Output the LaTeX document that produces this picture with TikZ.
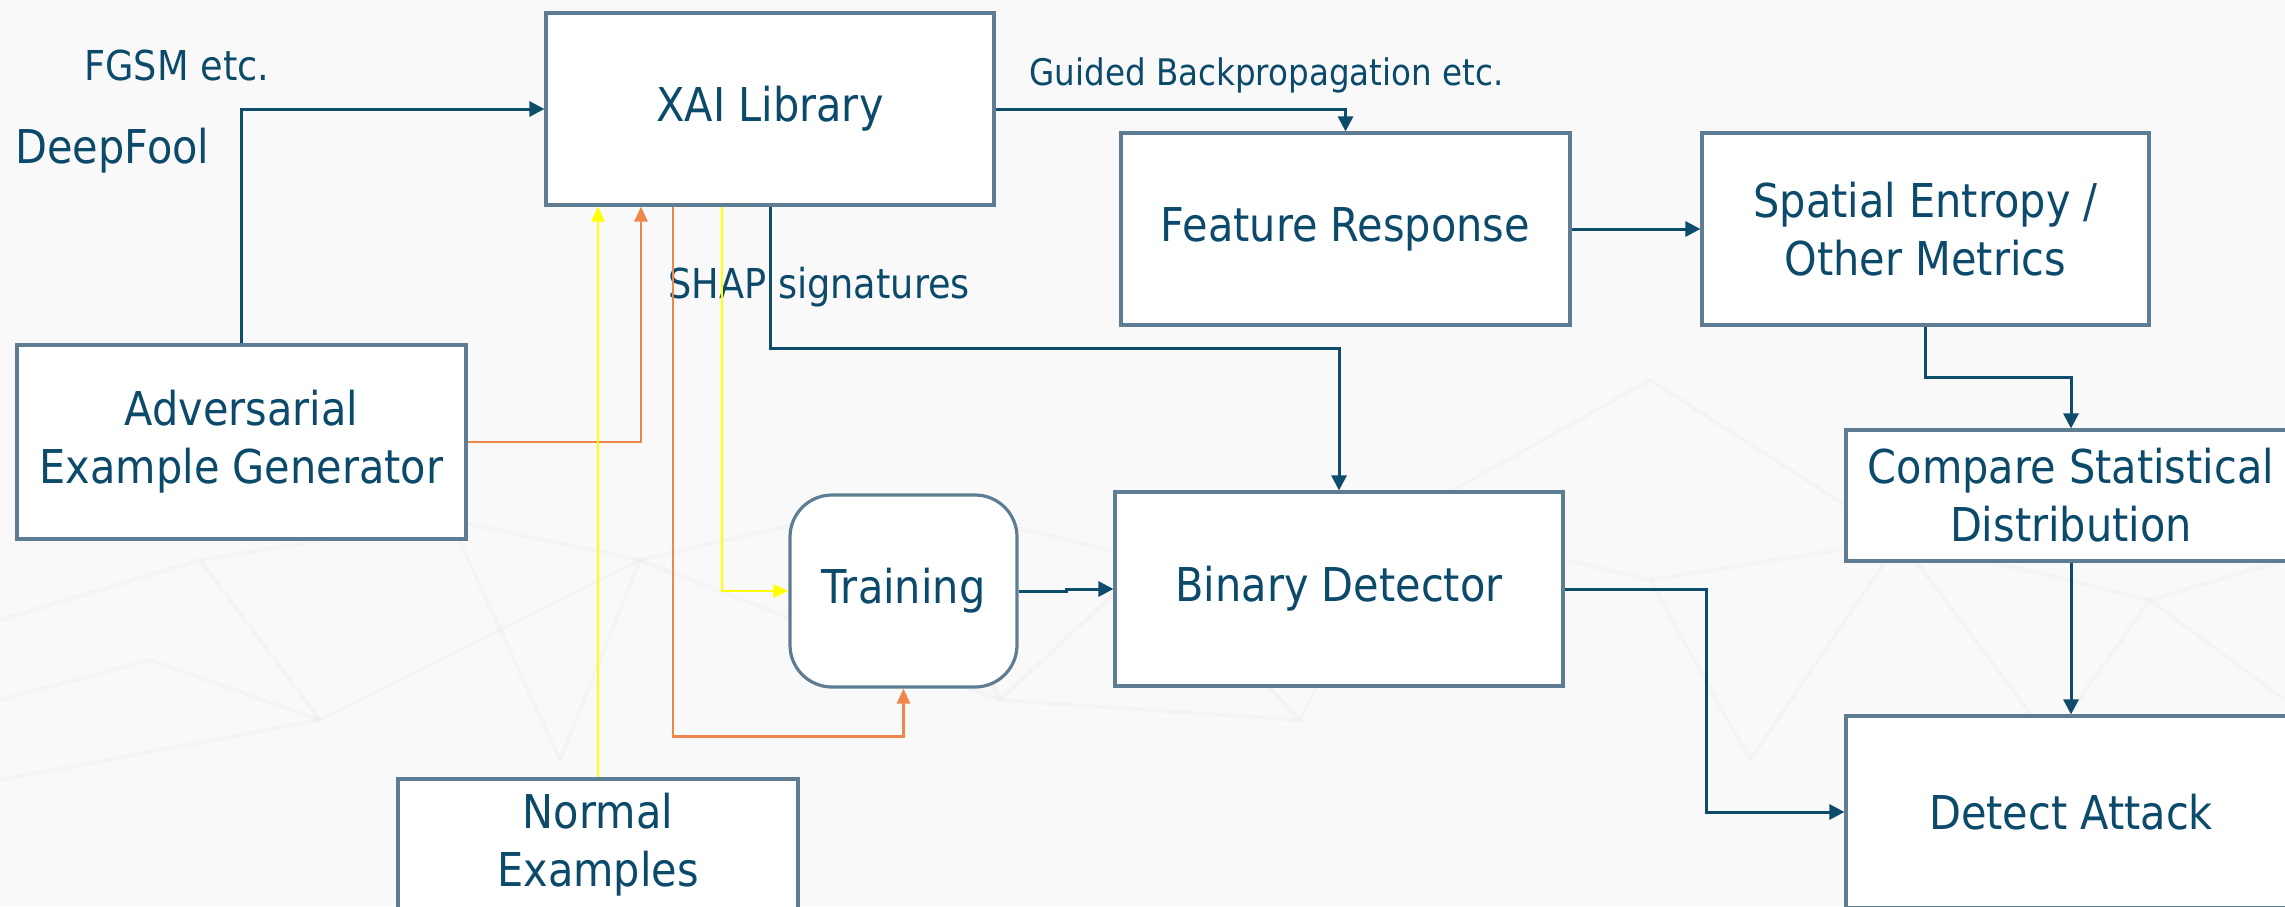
\documentclass[tikz,border=0pt]{standalone}
\usepackage{fontspec}
\setmainfont{DejaVu Sans}[FakeStretch=0.89]
\usetikzlibrary{arrows.meta,calc}

\definecolor{inkblue}{HTML}{0B4A6A}
\definecolor{wireblue}{HTML}{0D4C6B}
\definecolor{frame}{HTML}{5E7D92}
\definecolor{wireorange}{HTML}{F0874A}
\definecolor{wireyellow}{HTML}{FFFF00}
\definecolor{paper}{HTML}{F9F9F9}
\definecolor{meshgray}{HTML}{D8D8D8}

\tikzset{
  box/.style={draw=frame, line width=1.6pt, fill=white, inner sep=0pt,
              text=inkblue, align=center,
              font=\fontsize{23.3}{29}\selectfont},
  roundbox/.style={box, rounded corners=21pt},
  tag/.style={text=inkblue, inner sep=0pt, anchor=base west},
  wire/.style={draw=wireblue, line width=1.5pt,
               -{Triangle[length=7.5pt,width=7.5pt]}},
  wireO/.style={draw=wireorange, line width=1.4pt,
                -{Triangle[length=7.5pt,width=6.5pt]}},
  wireY/.style={draw=wireyellow, line width=1.3pt,
                -{Triangle[length=7.5pt,width=6.5pt]}},
  mesh/.style={draw=meshgray, line width=2pt, opacity=0.14},
}

\begin{document}
\begin{tikzpicture}[x=0.5pt, y=-0.5pt]
\clip (0,0) rectangle (2285,906);
\fill[paper] (0,0) rectangle (2285,906);

% faint network texture in the backdrop
\foreach \xa/\ya/\xb/\yb in {
  0/620/200/560, 200/560/450/520, 450/520/640/560, 640/560/900/500,
  900/500/1150/560, 1150/560/1400/520, 1400/520/1650/580, 1650/580/1900/540,
  1900/540/2150/600, 2150/600/2285/560,
  0/700/150/660, 150/660/320/720, 320/720/640/560, 640/560/560/760,
  200/560/320/720, 450/520/560/760, 900/500/1000/700, 1000/700/1150/560,
  1150/560/1300/720, 1300/720/1400/520, 1650/580/1750/760, 1750/760/1900/540,
  640/560/1000/700, 0/780/320/720, 1000/700/1300/720, 1900/540/2050/740,
  2050/740/2150/600, 1400/520/1650/380, 1650/380/1900/540, 2150/600/2285/700}
  \draw[mesh] (\xa,\ya) -- (\xb,\yb);

% boxes (sizes in pt: one unit of the grid is 0.5pt)
\node[box, minimum width=224pt,   minimum height=96pt]   (xai)  at (770,109)    {XAI Library};
\node[box, minimum width=224.5pt, minimum height=97pt]   (adv)  at (241.5,442)  {Adversarial\\Example Generator};
\node[box, minimum width=224.5pt, minimum height=96pt]   (feat) at (1345.5,229) {Feature Response};
\node[box, minimum width=223.5pt, minimum height=96pt]   (spat) at (1925.5,229) {Spatial Entropy /\\Other Metrics};
\node[box, minimum width=225pt,   minimum height=65.5pt] (cmp)  at (2071,495.5) {Compare Statistical\\Distribution};
\node[box, minimum width=224pt,   minimum height=97pt]   (bin)  at (1339,589)   {Binary Detector};
\node[roundbox, minimum width=113.5pt, minimum height=96pt] (trn) at (903.5,591) {Training};
\node[box, minimum width=200pt,   minimum height=66pt]   (nrm)  at (598,845)    {Normal\\Examples};
\node[box, minimum width=225pt,   minimum height=96pt]   (det)  at (2071,812)   {Detect Attack};

% free labels
\node[tag, font=\fontsize{20.6}{24}\selectfont] (fgsm)   at (84,80)    {FGSM etc.};
\node[tag, font=\fontsize{23.3}{28}\selectfont] (dfool)  at (15,163)   {DeepFool};
\node[tag, font=\fontsize{18.3}{22}\selectfont] (guided) at (1029,85)  {Guided Backpropagation etc.};
\node[tag, font=\fontsize{20.6}{24}\selectfont] (shap)   at (668,298)  {SHAP signatures};

% taps on the bottom edge of the library box
\coordinate (tapO) at (641,0);
\coordinate (tapOdown) at (673,0);
\coordinate (tapYdown) at (722,0);

% navy flow
\draw[wire] (adv.north) |- (xai.west);
\draw[wire] (xai.east) -| (feat.north);
\draw[wire] (feat.east) -- (spat.west);
\draw[wire] (spat.south) |- ($(spat.south)!0.5!(cmp.north)$) -| (cmp.north);
\draw[wire] (cmp.south) -- (det.north);
\draw[wire] (xai.south) |- ($(xai.south)!0.5!(bin.north)$) -| (bin.north);
\draw[wire] (trn.east) -- ++(48,0) |- (bin.west);
\draw[wire] (bin.east) -- ++(142,0) |- (det.west);

% orange flow
\draw[wireO] (adv.east) -| (xai.south -| tapO);
\draw[wireO] (xai.south -| tapOdown) |- ($(trn.south)+(0,48)$) -- (trn.south);

% yellow flow
\draw[wireY] (nrm.north) -- (nrm.north |- xai.south);
\draw[wireY] (xai.south -| tapYdown) |- (trn.west);
\end{tikzpicture}
\end{document}
